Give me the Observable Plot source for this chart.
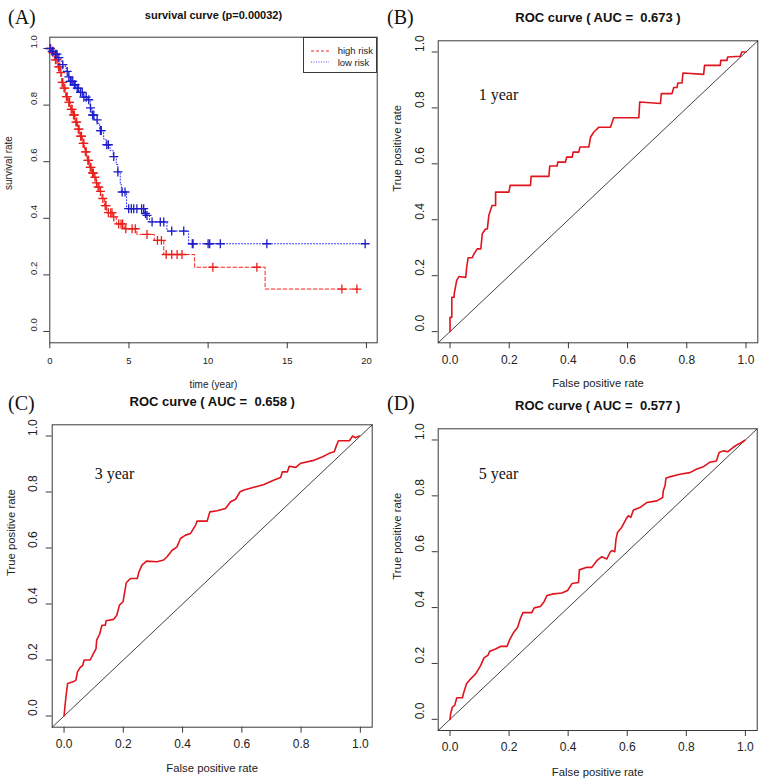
<!DOCTYPE html>
<html><head><meta charset="utf-8">
<script src="https://cdn.jsdelivr.net/npm/d3@7"></script>
<script src="https://cdn.jsdelivr.net/npm/@observablehq/plot@0.6"></script>
<style>
html,body{margin:0;padding:0;background:#fff;}
#page{position:relative;width:761px;height:781px;overflow:hidden;font-family:"Liberation Sans",Arial,sans-serif;color:#222;}
.panel{position:absolute;}
.letter{position:absolute;font-family:"Liberation Serif","Times New Roman",serif;font-size:20px;line-height:1;color:#111;}
.legend{position:absolute;border:1px solid #3a3a3a;background:#fff;box-sizing:border-box;font-size:9.5px;line-height:1;}
.legend .row{position:absolute;left:0;display:flex;align-items:center;}
.legend svg{display:block;}
</style></head><body><div id="page"></div>
<script>
// ---------- data ----------
const kmTicksX = [0, 5, 10, 15, 20];
const kmTicksY = [0, 0.2, 0.4, 0.6, 0.8, 1.0];
const rocTicks = [0, 0.2, 0.4, 0.6, 0.8, 1.0];
const kmDomainX = [0, 20.68];
const kmDomainY = [-0.04, 1.04];
const rocDomain = [-0.04, 1.04];

const groupNames = ["high risk", "low risk"];

// Kaplan-Meier steps [time (year), survival]
const highRiskSteps = [[0,1],[0.15,0.985],[0.3,0.96],[0.5,0.935],[0.65,0.915],[0.75,0.88],[0.85,0.86],[1.0,0.83],[1.15,0.81],[1.3,0.785],[1.45,0.765],[1.6,0.74],[1.75,0.715],[1.9,0.69],[2.05,0.665],[2.2,0.635],[2.35,0.605],[2.5,0.58],[2.65,0.56],[2.8,0.545],[2.9,0.525],[3.0,0.51],[3.15,0.495],[3.3,0.47],[3.45,0.445],[3.6,0.42],[4.0,0.405],[4.2,0.38],[4.7,0.363],[5.5,0.343],[6.6,0.322],[7.2,0.272],[9.15,0.227],[13.6,0.15],[19.4,0.15]];
const highRiskCensor = [[0.05,1],[0.2,0.985],[0.36,0.96],[0.45,0.96],[0.55,0.935],[0.63,0.935],[0.7,0.915],[0.78,0.88],[0.82,0.88],[0.9,0.86],[0.95,0.86],[1.05,0.83],[1.1,0.83],[1.2,0.81],[1.25,0.81],[1.35,0.785],[1.41,0.785],[1.5,0.765],[1.55,0.765],[1.65,0.74],[1.7,0.74],[1.8,0.715],[1.85,0.715],[1.95,0.69],[2.0,0.69],[2.1,0.665],[2.15,0.665],[2.25,0.635],[2.3,0.635],[2.4,0.605],[2.45,0.605],[2.55,0.58],[2.6,0.58],[2.7,0.56],[2.75,0.56],[2.85,0.545],[2.95,0.525],[3.05,0.51],[3.1,0.51],[3.2,0.495],[3.35,0.47],[3.5,0.445],[3.55,0.445],[3.7,0.42],[3.85,0.42],[3.93,0.42],[4.04,0.405],[4.35,0.38],[4.5,0.38],[4.6,0.38],[4.8,0.363],[5.2,0.363],[5.4,0.363],[6.14,0.343],[6.8,0.322],[7.05,0.322],[7.35,0.272],[7.7,0.272],[8.04,0.272],[8.35,0.272],[10.3,0.227],[13.08,0.227],[18.45,0.15],[19.4,0.15]];
const lowRiskSteps = [[0,1],[0.1,0.99],[0.3,0.98],[0.5,0.968],[0.7,0.955],[0.8,0.943],[1.0,0.93],[1.1,0.919],[1.2,0.9],[1.3,0.884],[1.5,0.872],[1.7,0.86],[1.9,0.845],[2.1,0.828],[2.4,0.819],[2.55,0.79],[2.65,0.765],[2.8,0.748],[3.0,0.736],[3.15,0.71],[3.4,0.68],[3.55,0.66],[3.8,0.64],[4.0,0.618],[4.2,0.59],[4.3,0.564],[4.45,0.52],[4.52,0.493],[4.85,0.434],[6.0,0.417],[6.1,0.41],[6.3,0.387],[7.4,0.355],[8.77,0.31],[20,0.31]];
const lowRiskCensor = [[0.02,1],[0.15,0.99],[0.2,0.99],[0.36,0.98],[0.45,0.98],[0.57,0.968],[0.82,0.943],[1.1,0.919],[1.2,0.9],[1.3,0.884],[1.35,0.884],[1.45,0.884],[1.55,0.872],[1.6,0.872],[1.73,0.86],[1.8,0.86],[1.94,0.845],[2.05,0.845],[2.15,0.828],[2.3,0.828],[2.46,0.819],[2.57,0.79],[2.7,0.765],[2.78,0.765],[2.99,0.748],[3.2,0.71],[3.25,0.71],[3.6,0.66],[3.7,0.66],[4.04,0.618],[4.3,0.564],[4.57,0.493],[4.75,0.493],[4.98,0.434],[5.15,0.434],[5.3,0.434],[5.5,0.434],[5.8,0.434],[5.93,0.434],[6.04,0.417],[6.14,0.41],[6.46,0.387],[6.98,0.387],[7.2,0.387],[7.7,0.355],[8.46,0.355],[9.0,0.31],[9.05,0.31],[10.0,0.31],[10.1,0.31],[10.77,0.31],[13.71,0.31],[19.92,0.31]];

// ROC curves [false positive rate, true positive rate]
const roc1year = [[0,0],[0,0.051],[0.006,0.051],[0.006,0.123],[0.014,0.123],[0.014,0.135],[0.0225,0.183],[0.03,0.197],[0.053,0.194],[0.056,0.228],[0.061,0.264],[0.075,0.264],[0.081,0.278],[0.092,0.296],[0.104,0.296],[0.109,0.35],[0.12,0.367],[0.126,0.367],[0.131,0.415],[0.142,0.451],[0.154,0.451],[0.154,0.499],[0.176,0.499],[0.199,0.499],[0.203,0.523],[0.272,0.523],[0.274,0.555],[0.334,0.555],[0.337,0.592],[0.362,0.592],[0.364,0.606],[0.39,0.606],[0.394,0.624],[0.413,0.624],[0.416,0.642],[0.435,0.642],[0.439,0.66],[0.469,0.66],[0.475,0.696],[0.486,0.714],[0.503,0.731],[0.542,0.731],[0.548,0.749],[0.553,0.765],[0.638,0.765],[0.641,0.821],[0.711,0.816],[0.714,0.851],[0.75,0.851],[0.756,0.873],[0.767,0.873],[0.77,0.889],[0.784,0.889],[0.787,0.925],[0.857,0.92],[0.86,0.952],[0.913,0.952],[0.915,0.97],[0.936,0.97],[0.938,0.982],[0.981,0.985],[0.986,1.0],[1.0,1.0]];
const roc3year = [[0,0],[0.0034,0.038],[0.007,0.074],[0.012,0.116],[0.031,0.122],[0.04,0.128],[0.045,0.157],[0.054,0.173],[0.063,0.181],[0.068,0.2],[0.088,0.2],[0.099,0.223],[0.108,0.241],[0.11,0.271],[0.12,0.292],[0.128,0.324],[0.139,0.324],[0.142,0.34],[0.167,0.345],[0.178,0.36],[0.187,0.396],[0.199,0.408],[0.203,0.432],[0.21,0.476],[0.224,0.491],[0.247,0.491],[0.253,0.515],[0.263,0.539],[0.278,0.553],[0.314,0.551],[0.336,0.557],[0.347,0.568],[0.365,0.592],[0.381,0.604],[0.393,0.634],[0.41,0.646],[0.427,0.652],[0.444,0.682],[0.449,0.696],[0.483,0.696],[0.492,0.729],[0.517,0.733],[0.545,0.741],[0.562,0.765],[0.579,0.774],[0.594,0.801],[0.607,0.807],[0.641,0.817],[0.675,0.827],[0.709,0.843],[0.731,0.852],[0.737,0.872],[0.754,0.872],[0.76,0.892],[0.782,0.888],[0.799,0.903],[0.839,0.912],[0.873,0.926],[0.895,0.938],[0.912,0.944],[0.918,0.962],[0.926,0.983],[0.963,0.983],[0.974,1.0],[0.982,0.994],[0.997,1.0]];
const roc5year = [[0,0],[0.002,0.02],[0.008,0.044],[0.016,0.05],[0.023,0.077],[0.042,0.077],[0.047,0.098],[0.056,0.127],[0.07,0.145],[0.087,0.163],[0.104,0.193],[0.115,0.22],[0.128,0.229],[0.135,0.244],[0.154,0.252],[0.171,0.261],[0.193,0.261],[0.202,0.285],[0.216,0.312],[0.229,0.33],[0.238,0.36],[0.247,0.382],[0.277,0.382],[0.285,0.399],[0.306,0.404],[0.319,0.422],[0.328,0.443],[0.351,0.449],[0.379,0.452],[0.398,0.461],[0.413,0.486],[0.435,0.49],[0.438,0.535],[0.463,0.544],[0.48,0.544],[0.497,0.568],[0.514,0.582],[0.531,0.574],[0.542,0.598],[0.548,0.604],[0.558,0.6],[0.562,0.645],[0.567,0.669],[0.581,0.687],[0.596,0.717],[0.604,0.729],[0.612,0.723],[0.621,0.749],[0.643,0.758],[0.666,0.776],[0.7,0.782],[0.72,0.794],[0.722,0.818],[0.728,0.836],[0.731,0.863],[0.744,0.868],[0.778,0.877],[0.812,0.883],[0.834,0.895],[0.857,0.904],[0.879,0.92],[0.902,0.925],[0.911,0.955],[0.925,0.961],[0.941,0.958],[0.958,0.973],[0.975,0.985],[0.986,0.99],[0.998,0.999]];

const panelLetters = ["(A)", "(B)", "(C)", "(D)"];
const rocTitles = ["ROC curve ( AUC =  0.673 )", "ROC curve ( AUC =  0.658 )", "ROC curve ( AUC =  0.577 )"];
const yearLabels = ["1 year", "3 year", "5 year"];
const kmTitle = "survival curve (p=0.00032)";

// ---------- drawing ----------
const page = document.getElementById("page");
const AXIS = "#3a3a3a";
const fmt1 = d3.format(".1f");

function makePanel(c) {
  const marks = [
    Plot.frame({stroke: AXIS, strokeWidth: 1}),
    Plot.axisX(c.xTicks, {tickSize: 6, tickFormat: () => "", stroke: AXIS, label: null}),
    Plot.axisY(c.yTicks, {tickSize: 6, tickFormat: () => "", stroke: AXIS, label: null}),
    ...c.marks,
    Plot.text(c.xTicks, {x: d => d, frameAnchor: "bottom", dy: c.xTickDy, text: c.xFmt, fontSize: c.tickSize, lineAnchor: "middle", fill: "#222"}),
    Plot.text(c.yTicks, {y: d => d, frameAnchor: "left", dx: c.yTickDx, rotate: -90, text: d => fmt1(d), fontSize: c.tickSize, lineAnchor: "middle", fill: "#222"}),
    Plot.text([c.title], {text: d => d, frameAnchor: "top", dy: c.titleDy, fontSize: c.titleSize, fontWeight: "bold", lineAnchor: "middle", fill: "#111"}),
    Plot.text([c.xLabel], {text: d => d, frameAnchor: "bottom", dy: c.xLabelDy, fontSize: c.labelSize, lineAnchor: "middle", fill: "#222"}),
    Plot.text([c.yLabel], {text: d => d, frameAnchor: "left", dx: c.yLabelDx, rotate: -90, fontSize: c.labelSize, lineAnchor: "middle", fill: "#222"})
  ];
  const svg = Plot.plot({
    width: c.width, height: c.height,
    marginLeft: c.m[0], marginRight: c.m[1], marginTop: c.m[2], marginBottom: c.m[3],
    x: {domain: c.xDomain, type: "linear"},
    y: {domain: c.yDomain, type: "linear"},
    style: {fontFamily: '"Liberation Sans", Arial, sans-serif', background: "transparent", overflow: "visible", color: "#222"},
    marks
  });
  const wrap = document.createElement("div");
  wrap.className = "panel";
  wrap.style.left = c.left + "px";
  wrap.style.top = c.top + "px";
  wrap.appendChild(svg);
  page.appendChild(wrap);
}

// Panel A: Kaplan-Meier
makePanel({
  left: 0, top: 0, width: 380, height: 390, m: [49.3, 3.3, 36.7, 47.7],
  xDomain: kmDomainX, yDomain: kmDomainY, xTicks: kmTicksX, yTicks: kmTicksY,
  xFmt: d => String(d), tickSize: 9.5, xTickDy: 17.7, yTickDx: -16.3,
  title: kmTitle, titleSize: 11, titleDy: -21.7,
  xLabel: "time (year)", yLabel: "survival rate", labelSize: 10, xLabelDy: 41.7, yLabelDx: -41.3,
  marks: [
    Plot.line(highRiskSteps, {x: d => d[0], y: d => d[1], curve: "step-after", stroke: "#ff2020", strokeWidth: 1, strokeDasharray: "3.5,2.5"}),
    Plot.line(lowRiskSteps, {x: d => d[0], y: d => d[1], curve: "step-after", stroke: "#2a2aff", strokeWidth: 1, strokeDasharray: "1,2"}),
    Plot.dot(highRiskCensor, {x: d => d[0], y: d => d[1], symbol: "plus", r: 3, stroke: "#e8201c", strokeWidth: 1.3}),
    Plot.dot(lowRiskCensor, {x: d => d[0], y: d => d[1], symbol: "plus", r: 3, stroke: "#1c1cc8", strokeWidth: 1.3})
  ]
});

// ROC panels
const rocPanels = [
  {left: 380, top: 0, width: 381, height: 390, m: [57.7, 3.7, 40.3, 47.7], data: roc1year, title: rocTitles[0], year: yearLabels[0],
   titleDy: -23.3, xTickDy: 17.7, yTickDx: -17.7, xLabelDy: 40.7, yLabelDx: -41, yearDx: 60.3, yearDy: 53.7},
  {left: 0, top: 390, width: 380, height: 391, m: [51.7, 8.3, 34.3, 54.3], data: roc3year, title: rocTitles[1], year: yearLabels[1],
   titleDy: -22.6, xTickDy: 17.3, yTickDx: -18.7, xLabelDy: 41.3, yLabelDx: -40.7, yearDx: 62.3, yearDy: 49.2},
  {left: 380, top: 390, width: 381, height: 391, m: [57.7, 4.3, 38.3, 51], data: roc5year, title: rocTitles[2], year: yearLabels[2],
   titleDy: -23.3, xTickDy: 16.7, yTickDx: -17.7, xLabelDy: 41.7, yLabelDx: -41, yearDx: 60.3, yearDy: 44.7}
];
for (const p of rocPanels) {
  makePanel({
    left: p.left, top: p.top, width: p.width, height: p.height, m: p.m,
    xDomain: rocDomain, yDomain: rocDomain, xTicks: rocTicks, yTicks: rocTicks,
    xFmt: d => fmt1(d), tickSize: 12, xTickDy: p.xTickDy, yTickDx: p.yTickDx,
    title: p.title, titleSize: 13, titleDy: p.titleDy,
    xLabel: "False positive rate", yLabel: "True positive rate", labelSize: 11.3, xLabelDy: p.xLabelDy, yLabelDx: p.yLabelDx,
    marks: [
      Plot.line(rocDomain, {x: d => d, y: d => d, stroke: "#111", strokeWidth: 0.8}),
      Plot.line(p.data, {x: d => d[0], y: d => d[1], stroke: "#e0141c", strokeWidth: 1.6}),
      Plot.text([p.year], {text: d => d, frameAnchor: "top-left", dx: p.yearDx, dy: p.yearDy, fontFamily: '"Liberation Serif", "Times New Roman", serif', fontSize: 16, lineAnchor: "middle", textAnchor: "middle", fill: "#111"})
    ]
  });
}

// Panel letters
const letterPos = [[8, 7], [387, 7], [8, 393], [387, 393]];
panelLetters.forEach((t, i) => {
  const d = document.createElement("div");
  d.className = "letter";
  d.style.left = letterPos[i][0] + "px";
  d.style.top = letterPos[i][1] + "px";
  d.textContent = t;
  page.appendChild(d);
});

// Legend for panel A
const legend = document.createElement("div");
legend.className = "legend";
Object.assign(legend.style, {left: "302.7px", top: "36.7px", width: "74px", height: "36.5px"});
const legendStyles = [
  {stroke: "#ff2020", dash: "3,2", y: 13.3},
  {stroke: "#4a4aff", dash: "1,1.5", y: 24.6}
];
groupNames.forEach((name, i) => {
  const row = document.createElement("div");
  row.className = "row";
  row.style.top = (legendStyles[i].y - 6) + "px";
  row.style.height = "12px";
  row.innerHTML = `<svg width="34" height="12"><line x1="7" x2="25" y1="6" y2="6" stroke="${legendStyles[i].stroke}" stroke-width="1" stroke-dasharray="${legendStyles[i].dash}"/></svg><span>${name}</span>`;
  legend.appendChild(row);
});
page.appendChild(legend);
</script></body></html>
